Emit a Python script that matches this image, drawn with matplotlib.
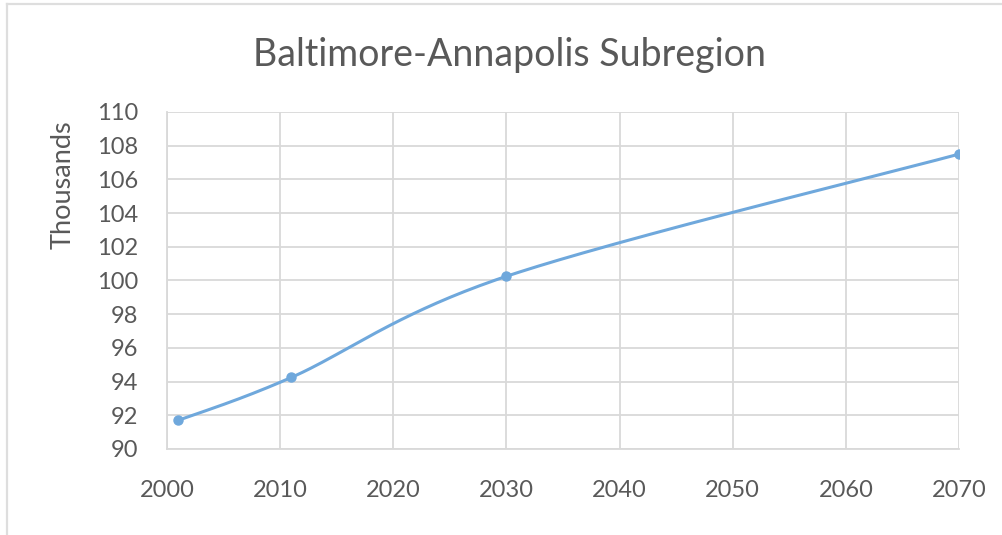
import numpy as np
import matplotlib
matplotlib.use("Agg")
import matplotlib.pyplot as plt
from matplotlib.lines import Line2D

years = [2001, 2011, 2030, 2070]
values = [91.7, 94.25, 100.25, 107.5]
y_ticks = [90, 92, 94, 96, 98, 100, 102, 104, 106, 108, 110]
x_ticks = [2000, 2010, 2020, 2030, 2040, 2050, 2060, 2070]
title = "Baltimore-Annapolis Subregion"
ylabel = "Thousands"

plt.rcParams['font.family'] = ['Lato', 'DejaVu Sans']

def smooth(xs, ys, n=60):
    P = np.column_stack([xs, ys]).astype(float)
    out = []
    m = len(P)
    for i in range(m - 1):
        p0 = P[i - 1] if i > 0 else P[i]
        p1 = P[i]
        p2 = P[i + 1]
        p3 = P[i + 2] if i + 2 < m else P[i + 1]
        c1 = p1 + (p2 - p0) / 6.0
        c2 = p2 - (p3 - p1) / 6.0
        t = np.linspace(0, 1, n)[:, None]
        seg = ((1 - t) ** 3) * p1 + 3 * ((1 - t) ** 2) * t * c1 + 3 * (1 - t) * t ** 2 * c2 + t ** 3 * p2
        out.append(seg if i == 0 else seg[1:])
    arr = np.vstack(out)
    return arr[:, 0], arr[:, 1]

W, H = 1003, 535
fig = plt.figure(figsize=(W / 100, H / 100), dpi=100)
# chart-area border (top and left edges visible)
fig.lines.append(Line2D([7 / W, 1], [1 - 4 / H, 1 - 4 / H], transform=fig.transFigure,
                        color='#dedede', linewidth=1.6))
fig.lines.append(Line2D([7 / W, 7 / W], [0, 1 - 4 / H], transform=fig.transFigure,
                        color='#dedede', linewidth=1.6))

ax = fig.add_axes([167 / W, 1 - 449 / H, (959 - 167) / W, (449 - 112) / H])

color = '#6fa8dc'
sx, sy = smooth(years, values)
ax.plot(sx, sy, color=color, linewidth=2.2, solid_capstyle='round')
ax.plot(years, values, 'o', color=color, markersize=6.5)

ax.set_xlim(2000, 2070)
ax.set_ylim(90, 110)
ax.set_xticks(x_ticks)
ax.set_yticks(y_ticks)
ax.grid(True, color='#d9d9d9', linewidth=1.3)
ax.set_axisbelow(True)
for s in ['top', 'right']:
    ax.spines[s].set_visible(False)
for s in ['left', 'bottom']:
    ax.spines[s].set_color('#d9d9d9')
    ax.spines[s].set_linewidth(1.3)
ax.tick_params(length=0, labelsize=17, labelcolor='#595959')
ax.tick_params(axis='y', pad=21)
ax.tick_params(axis='x', pad=22)
fig.text(63 / W, 1 - 185 / H, ylabel, rotation=90, ha='center', va='center',
         fontsize=19.5, color='#595959')
fig.text(510 / W, 1 - 55 / H, title, ha='center', va='center', fontsize=27, color='#595959')

fig.savefig('out.png', dpi=100)
